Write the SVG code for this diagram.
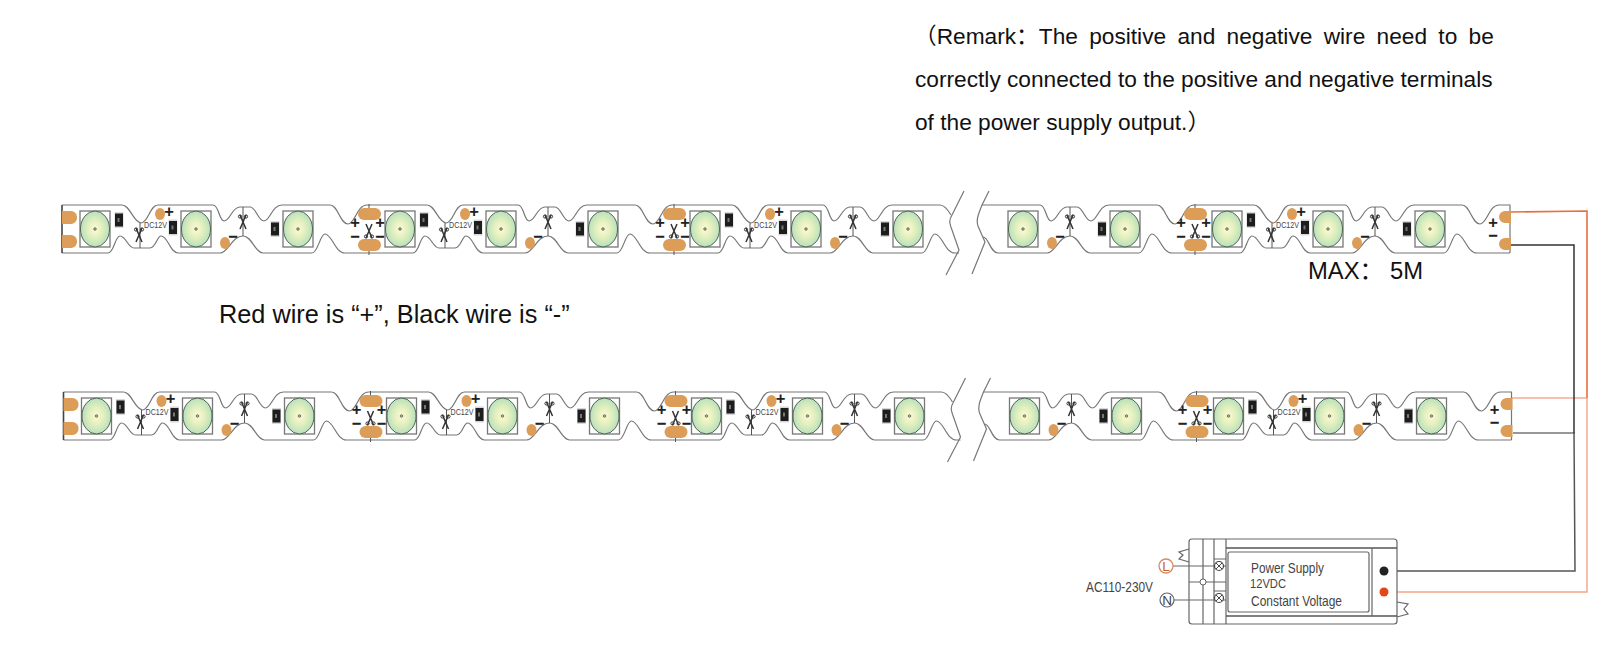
<svg xmlns="http://www.w3.org/2000/svg" xmlns:xlink="http://www.w3.org/1999/xlink" width="1623" height="671" viewBox="0 0 1623 671">
<style>
text{font-family:"Liberation Sans","Noto Sans CJK SC",sans-serif}
.t{font-size:22.7px;fill:#111}
.dc{font-size:8.6px;fill:#444}
.e{fill:none;stroke:#777;stroke-width:1.2}
.sq{fill:none;stroke:#777;stroke-width:1.3}
.pad{fill:#dc9d58}
.sgn{font-size:16.5px;fill:#222;text-anchor:middle;font-weight:bold}
.cut{fill:none;stroke:#555;stroke-width:1}
.ps{fill:none;stroke:#666;stroke-width:1.2}
.pst{font-size:14.5px;fill:#444}
</style>
<defs>
<radialGradient id="lg"><stop offset="0" stop-color="#fdfbd4"/><stop offset="0.5" stop-color="#e2efbe"/><stop offset="1" stop-color="#b9e0bd"/></radialGradient>
<g id="led"><rect class="sq" x="-15" y="-18" width="30" height="36"/><ellipse rx="14.5" ry="18" fill="url(#lg)" stroke="#4f6650" stroke-width="1"/><circle r="1.3" fill="#b8b070" stroke="#555" stroke-width="0.7"/></g>
<g id="res"><rect x="-4.5" y="-8" width="9" height="16" fill="#d8d8d8"/><rect x="-4" y="-6.5" width="8" height="13" fill="#1d1d1d"/><rect x="-1.5" y="-2" width="2" height="4" fill="#777"/></g>
<g id="sc"><path d="M-3,-7L3,7M3,-7L-3,7" stroke="#333" stroke-width="1.5" fill="none"/><circle cx="-3" cy="-5.5" r="1.6" fill="none" stroke="#333"/><circle cx="3" cy="-5.5" r="1.6" fill="none" stroke="#333"/></g>
<g id="k1"><use href="#led" x="95" y="229"/><use href="#res" x="119" y="220"/><path class="cut" d="M140,223V248"/><use href="#sc" x="139" y="235"/></g>
<g id="k2"><ellipse class="pad" cx="160" cy="214" rx="5" ry="6"/><text class="sgn" x="169" y="216.5">+</text><use href="#led" x="196" y="229"/><use href="#res" x="173" y="227.5"/></g>
<g id="k3"><path class="cut" d="M243,207V236"/><use href="#sc" x="243" y="222"/><text class="sgn" x="233" y="241.5">−</text><ellipse class="pad" cx="225" cy="243" rx="5" ry="6"/><use href="#led" x="298" y="229"/><use href="#res" x="275" y="229"/></g>
<g id="cutpad"><rect class="pad" x="358" y="208" width="23" height="12" rx="6"/><rect class="pad" x="358" y="239" width="23" height="12" rx="6"/><path class="cut" d="M369,204V208M369,251V255"/>
<text class="sgn" x="355" y="227.5">+</text><text class="sgn" x="380" y="227.5">+</text><text class="sgn" x="355" y="241.5">−</text><text class="sgn" x="380" y="241.5">−</text><use href="#sc" transform="translate(369,231) rotate(180)"/></g>
<g id="shapes">
<path class="e" d="M62,205h60c8,0 11,17 19,18c7,0 9,-18 17,-18h55c6,0 6,16 11,16c6,0 8,-14 16,-14h10c6,0 8,14 14,14c6,0 8,-16 18,-16h48c8,0 10,19 18,19c7,0 9,-19 19,-19h60c8,0 11,17 19,18c7,0 9,-18 17,-18h55c6,0 6,16 11,16c6,0 8,-14 16,-14h10c6,0 8,14 14,14c6,0 8,-16 18,-16h48c8,0 10,19 18,19c7,0 9,-19 19,-19h60c8,0 11,17 19,18c7,0 9,-18 17,-18h55c6,0 6,16 11,16c6,0 8,-14 16,-14h10c6,0 8,14 14,14c6,0 8,-16 18,-16h48c4,0 8,5 11,10"/>
<path class="e" d="M62,253h46c6,0 7,-17 12,-17c6,0 8,12 14,12h16c6,0 7,-12 11,-12c7,0 9,17 17,17h42c8,0 12,-17 23,-17c9,0 12,17 20,17h49c6,0 8,-19 13,-19c7,0 10,19 20,19h22h46c6,0 7,-17 12,-17c6,0 8,12 14,12h16c6,0 7,-12 11,-12c7,0 9,17 17,17h42c8,0 12,-17 23,-17c9,0 12,17 20,17h49c6,0 8,-19 13,-19c7,0 10,19 20,19h22h46c6,0 7,-17 12,-17c6,0 8,12 14,12h16c6,0 7,-12 11,-12c7,0 9,17 17,17h42c8,0 12,-17 23,-17c9,0 12,17 20,17h49c6,0 8,-19 13,-19c7,0 10,19 20,19h4"/>
<path class="e" d="M964,191L952,215C949,220 949,222 952,230L959,250L946,275"/>
<path class="e" d="M989,191L982,205C978,215 976,220 978,226L985,242L972,274"/>
<path class="e" d="M982,205H1040c6,0 6,16 11,16c6,0 8,-14 16,-14h10c6,0 8,14 14,14c6,0 8,-16 18,-16h48c8,0 10,19 18,19c7,0 9,-19 19,-19h60c8,0 11,17 19,18c7,0 9,-18 17,-18h55c6,0 6,16 11,16c6,0 8,-14 16,-14h10c6,0 8,14 14,14c6,0 8,-16 18,-16h48c8,0 10,19 18,19c7,0 9,-19 19,-19H1510V253"/>
<path class="e" d="M983,237c6,0 7,16 15,16H1047c8,0 12,-17 23,-17c9,0 12,17 20,17h49c6,0 8,-19 13,-19c7,0 10,19 20,19h22h46c6,0 7,-17 12,-17c6,0 8,12 14,12h16c6,0 7,-12 11,-12c7,0 9,17 17,17h42c8,0 12,-17 23,-17c9,0 12,17 20,17h49c6,0 8,-19 13,-19c7,0 10,19 20,19H1510"/>
<path d="M62,205V253" stroke="#444" stroke-width="1.6" fill="none"/>
<path class="pad" d="M62,211h9a6,6 0 0 1 6,6v1a6,6 0 0 1 -6,6h-9zM62,235h9a6,6 0 0 1 6,6v1a6,6 0 0 1 -6,6h-9z"/>
<path class="pad" d="M1511,211h-6a6,6 0 0 0 -6,6v0a6,6 0 0 0 6,6h6zM1511,238h-6a6,6 0 0 0 -6,6v0a6,6 0 0 0 6,6h6z"/>
<text class="sgn" x="1493" y="227.5">+</text><text class="sgn" x="1493" y="240.5">−</text>
<use href="#k1"/><use href="#k2"/><use href="#k3"/>
<use href="#cutpad"/>
<use href="#k1" x="305"/><use href="#k2" x="305"/><use href="#k3" x="305"/>
<use href="#cutpad" x="305"/>
<use href="#k1" x="610"/><use href="#k2" x="610"/><use href="#k3" x="610"/>
<use href="#led" x="1023" y="229"/><use href="#k3" x="827"/>
<use href="#cutpad" x="826"/>
<use href="#k1" x="1132"/><use href="#k2" x="1132"/><use href="#k3" x="1132"/>
</g>
</defs>
<rect width="1623" height="671" fill="#fff"/>
<g id="remark">
<text class="t" x="914" y="44" word-spacing="5">（Remark：The positive and negative wire need to be</text>
<text class="t" x="915" y="87">correctly connected to the positive and negative terminals</text>
<text class="t" x="915" y="130">of the power supply output.）</text>
</g>
<text id="wire-note" x="219" y="323" font-size="25.3" fill="#111">Red wire is “+”, Black wire is “-”</text>
<text id="max-label" x="1308" y="279" font-size="23.8" fill="#111">MAX： 5M</text>
<g id="strip-1">
<use href="#shapes"/>
<text class="dc" x="144" y="228" textLength="23" lengthAdjust="spacingAndGlyphs">DC12V</text><text class="dc" x="449" y="228" textLength="23" lengthAdjust="spacingAndGlyphs">DC12V</text><text class="dc" x="754" y="228" textLength="23" lengthAdjust="spacingAndGlyphs">DC12V</text><text class="dc" x="1276" y="228" textLength="23" lengthAdjust="spacingAndGlyphs">DC12V</text>
</g>
<g id="strip-2" transform="translate(1.5,187)">
<use href="#shapes"/>
<text class="dc" x="144" y="228" textLength="23" lengthAdjust="spacingAndGlyphs">DC12V</text><text class="dc" x="449" y="228" textLength="23" lengthAdjust="spacingAndGlyphs">DC12V</text><text class="dc" x="754" y="228" textLength="23" lengthAdjust="spacingAndGlyphs">DC12V</text><text class="dc" x="1276" y="228" textLength="23" lengthAdjust="spacingAndGlyphs">DC12V</text>
</g>
<g id="connectors" fill="none">
<path d="M1511,212L1587,211V398" stroke="#e8703a" stroke-width="1.6"/>
<path d="M1512,398H1587" stroke="#ee8460" stroke-width="1.2"/>
<path d="M1587,398V592H1384" stroke="#f3a488" stroke-width="1.4"/>
<path d="M1511,245H1574V433" stroke="#333" stroke-width="1.5"/>
<path d="M1513,433H1575" stroke="#333" stroke-width="1.1"/>
<path d="M1574,433L1575,571H1384" stroke="#555" stroke-width="1.5"/>
</g>
<g id="power-supply">
<rect class="ps" x="1189" y="539" width="208" height="85" rx="3" style="fill:#fff"/>
<path class="ps" d="M1203,539V624M1214,539V624M1226,539V624"/>
<path d="M1226,548H1397M1226,616H1397" stroke="#555" stroke-width="1.6" fill="none"/>
<path class="ps" d="M1372,548V616"/>
<rect class="ps" x="1228" y="552" width="141" height="60" rx="2"/>
<path class="ps" d="M1189,582H1226M1214,559H1226M1214,591H1226M1173,566H1226M1174,600H1226"/>
<circle cx="1203" cy="582" r="3" fill="#fff" stroke="#666"/>
<circle cx="1219" cy="566" r="4.5" fill="#fff" stroke="#444" stroke-width="1.2"/><path d="M1216,563L1222,569M1222,563L1216,569" stroke="#444"/>
<circle cx="1219" cy="598" r="4.5" fill="#fff" stroke="#444" stroke-width="1.2"/><path d="M1216,595L1222,601M1222,595L1216,601" stroke="#444"/>
<path class="ps" d="M1189,549L1179,552L1183,555L1179,559L1189,562"/>
<path class="ps" d="M1397,602L1408,604L1404,609L1408,614L1397,617"/>
<circle cx="1166" cy="566" r="7" fill="#fff" stroke="#d88a60" stroke-width="1.3"/>
<circle cx="1167" cy="600" r="7" fill="#fff" stroke="#666" stroke-width="1.2"/>
<text x="1166" y="571" font-size="13.5" fill="#c8602a" text-anchor="middle">L</text>
<text x="1167" y="605" font-size="13.5" fill="#444" text-anchor="middle">N</text>
<text x="1086" y="592" font-size="14.5" fill="#444" textLength="67" lengthAdjust="spacingAndGlyphs">AC110-230V</text>
<text class="pst" x="1251" y="573" textLength="73" lengthAdjust="spacingAndGlyphs">Power Supply</text>
<text class="pst" x="1250" y="588" style="font-size:13.5px" textLength="36" lengthAdjust="spacingAndGlyphs">12VDC</text>
<text class="pst" x="1251" y="606" textLength="91" lengthAdjust="spacingAndGlyphs">Constant Voltage</text>
<circle cx="1384" cy="571" r="4.5" fill="#222"/>
<circle cx="1384" cy="592" r="4.5" fill="#e0481a"/>
</g>
</svg>
